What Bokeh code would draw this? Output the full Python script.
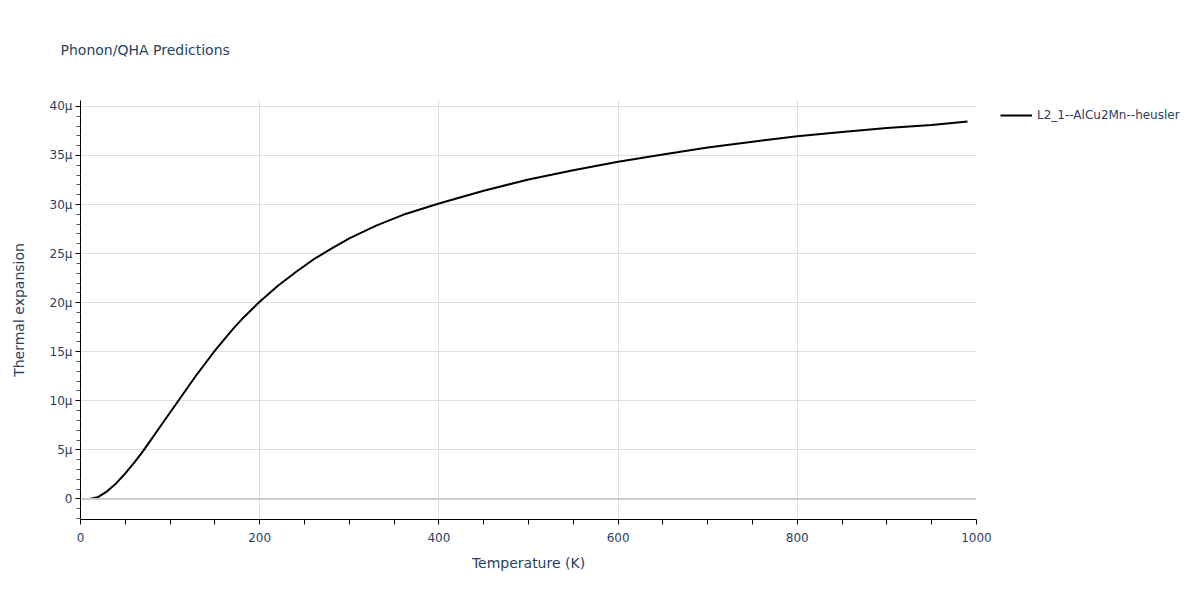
from bokeh.plotting import figure
from bokeh.layouts import row
from bokeh.models import FixedTicker, Span, Legend, LegendItem, Range1d
from bokeh.embed import file_html
from bokeh.resources import INLINE

# Temperature (K)
temperature = [0, 10, 20, 30, 40, 50, 60, 70, 80, 90, 100, 110, 120, 130, 140, 150,
               160, 170, 180, 190, 200, 220, 240, 260, 280, 300, 330, 360, 400, 450,
               500, 550, 600, 650, 700, 750, 800, 850, 900, 950, 990]
# Thermal expansion (in units of 1e-6)
thermal_expansion = [0, 0, 0.2, 0.8, 1.6, 2.6, 3.7, 4.9, 6.2, 7.5, 8.8, 10.1, 11.4, 12.7,
                     13.9, 15.1, 16.2, 17.3, 18.3, 19.2, 20.1, 21.7, 23.1, 24.4, 25.5, 26.55,
                     27.85, 28.95, 30.1, 31.4, 32.55, 33.5, 34.35, 35.1, 35.8, 36.4, 36.95,
                     37.4, 37.8, 38.1, 38.45]
series_name = "L2_1--AlCu2Mn--heusler"
x_ticks = [0, 200, 400, 600, 800, 1000]
x_minor = [50, 100, 150, 250, 300, 350, 450, 500, 550, 650, 700, 750, 850, 900, 950]
y_ticks = [0, 5, 10, 15, 20, 25, 30, 35, 40]
y_tick_labels = ["0", "5μ", "10μ", "15μ", "20μ", "25μ", "30μ", "35μ", "40μ"]
y_minor = [v for v in range(-2, 41) if v % 5 != 0]

FONT = "DejaVu Sans"
TXT = "#2a3f5f"

p = figure(width=1000, height=584, output_backend="svg", toolbar_location=None,
           x_range=Range1d(0, 1000), y_range=Range1d(-2.1, 40.6))
p.min_border_left = 80
p.min_border_right = 24
p.min_border_top = 100
p.min_border_bottom = 65
p.outline_line_color = None
p.background_fill_color = "white"
p.border_fill_color = "white"

p.title.text = "Phonon/QHA Predictions"
p.title.text_font = FONT
p.title.text_font_size = "14px"
p.title.text_font_style = "normal"
p.title.text_color = TXT
p.title.align = "left"
p.title.vertical_align = "top"
p.title.offset = -20
p.title.standoff = 81

for ax in (p.xaxis[0], p.yaxis[0]):
    ax.axis_line_color = "black"
    ax.axis_line_width = 1
    ax.major_tick_line_color = "black"
    ax.minor_tick_line_color = "#555555"
    ax.major_tick_in = 0
    ax.major_tick_out = 5
    ax.minor_tick_in = 0
    ax.major_label_text_font = FONT
    ax.major_label_text_font_size = "12px"
    ax.major_label_text_color = TXT
    ax.axis_label_text_font = FONT
    ax.axis_label_text_font_size = "14px"
    ax.axis_label_text_font_style = "normal"
    ax.axis_label_text_color = TXT

p.xaxis.ticker = FixedTicker(ticks=x_ticks, minor_ticks=x_minor)
p.xaxis.minor_tick_out = 5
p.xaxis.minor_tick_line_color = "black"
p.xaxis.axis_label = "Temperature (K)"
p.xaxis.major_label_standoff = 8
p.xaxis.axis_label_standoff = 10

p.yaxis.ticker = FixedTicker(ticks=y_ticks, minor_ticks=y_minor)
p.yaxis.minor_tick_out = 4
p.yaxis.major_label_overrides = {t: l for t, l in zip(y_ticks, y_tick_labels)}
p.yaxis.axis_label = "Thermal expansion"
p.yaxis.major_label_standoff = 3
p.yaxis.axis_label_standoff = 20

p.xgrid.ticker = FixedTicker(ticks=x_ticks)
p.ygrid.ticker = FixedTicker(ticks=y_ticks)
p.xgrid.grid_line_color = "#dedede"
p.ygrid.grid_line_color = "#dedede"
p.xgrid.grid_line_width = 1
p.ygrid.grid_line_width = 1

p.add_layout(Span(location=0, dimension="width", line_color="#cccccc", line_width=2))

p.line(temperature, thermal_expansion, line_color="black", line_width=2)

# Separate panel holding the legend (outside the plotting area, like the reference).
# The same series is drawn there but outside its visible range, so only its legend shows.
pl = figure(width=184, height=584, output_backend="svg", toolbar_location=None,
            x_axis_type=None, y_axis_type=None, min_border=0,
            x_range=Range1d(5000, 6000), y_range=Range1d(-2.1, 40.6))
pl.outline_line_color = None
pl.xgrid.visible = False
pl.ygrid.visible = False
lr = pl.line(temperature, thermal_expansion, line_color="black", line_width=2)
legend = Legend(items=[LegendItem(label=series_name, renderers=[lr])],
                location=(0, 394), border_line_color=None, background_fill_alpha=0,
                padding=0, margin=0, spacing=0, glyph_width=32, glyph_height=20,
                label_height=20, label_standoff=5,
                label_text_font=FONT, label_text_font_size="12px", label_text_color=TXT)
pl.add_layout(legend)

layout = row(p, pl, spacing=0)

open("out.html", "w").write(file_html(layout, INLINE))
